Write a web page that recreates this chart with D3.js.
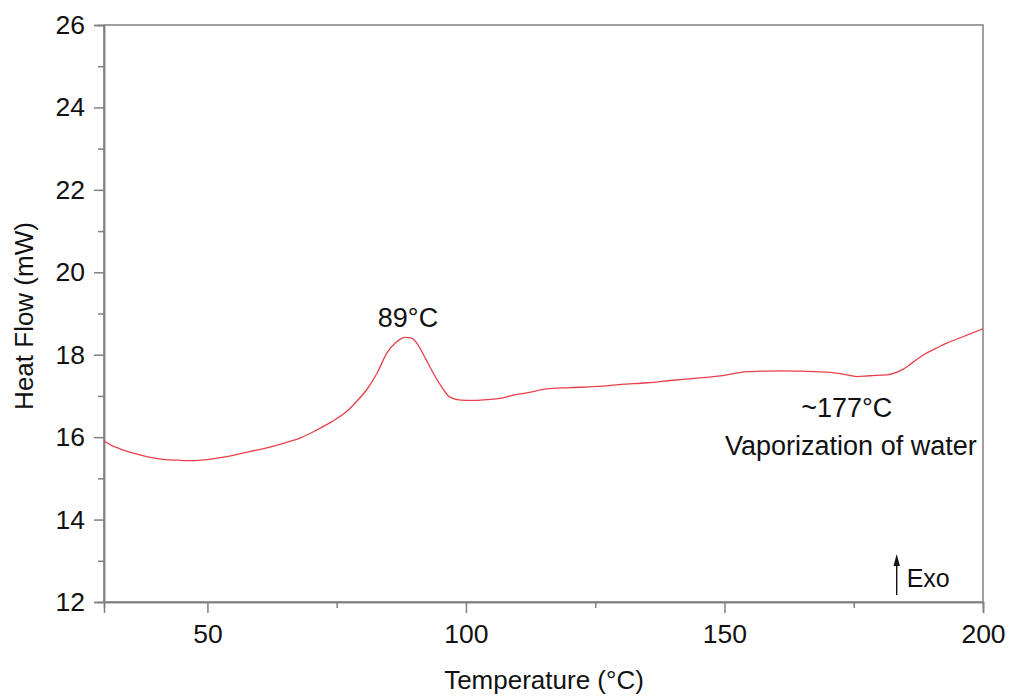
<!DOCTYPE html>
<html>
<head>
<meta charset="utf-8">
<script src="https://cdn.jsdelivr.net/npm/d3@7"></script>
<style>
  body { margin: 0; background: #fff; }
  text { font-family: "Liberation Sans", Arial, sans-serif; fill: #111; }
</style>
</head>
<body>
<div id="chart"></div>
<script>
// DSC curve
var temps = [30, 30.5, 33, 35.7, 38.5, 41.5, 44.5, 47.3, 49.5, 51.8, 55, 58.2, 61.5, 64.7, 68, 71.1, 74, 76.9, 78.8,
             80.8, 82.8, 84.7, 86.5, 88.2, 89.5, 90.5, 92, 93.7, 95.3, 96.9, 99, 101.4, 104, 106.6, 109.2, 112,
             115.6, 120, 125.3, 130, 135, 140, 144.6, 150, 154.3, 157, 160.8, 165, 170.4, 173, 175.6, 178, 181.4,
             183, 184.6, 186.5, 188.5, 191, 193, 196, 199.4, 200];
var heat = [15.92, 15.87, 15.72, 15.61, 15.52, 15.46, 15.44, 15.43, 15.45, 15.49, 15.56, 15.65, 15.74, 15.85, 15.98, 16.17, 16.37, 16.62, 16.86,
            17.15, 17.55, 18.04, 18.3, 18.42, 18.4, 18.28, 17.95, 17.55, 17.22, 16.97, 16.9, 16.89, 16.91, 16.94, 17.02, 17.08,
            17.17, 17.2, 17.23, 17.28, 17.32, 17.38, 17.43, 17.5, 17.59, 17.6, 17.61, 17.6, 17.57, 17.53, 17.47, 17.49, 17.51,
            17.56, 17.65, 17.82, 18.0, 18.16, 18.28, 18.43, 18.6, 18.63];
var xTicks = [50, 100, 150, 200];
var xMinor = [75, 125, 175];
var yTicks = [12, 14, 16, 18, 20, 22, 24, 26];
var yMinor = [13, 15, 17, 19, 21, 23, 25];

var margin = {top: 25, right: 27, bottom: 94, left: 104},
    width = 1010 - margin.left - margin.right,
    height = 696 - margin.top - margin.bottom;

var x = d3.scaleLinear().domain([30, 200]).range([0, width]);
var y = d3.scaleLinear().domain([12, 26]).range([height, 0]);

var svg = d3.select("#chart").append("svg")
    .attr("width", 1010)
    .attr("height", 696)
  .append("g")
    .attr("transform", "translate(" + margin.left + "," + margin.top + ")");

// frame
svg.append("rect")
    .attr("width", width).attr("height", height)
    .attr("fill", "none").attr("stroke", "#808080").attr("stroke-width", 1.5);

// x axis
var xAxis = svg.append("g").attr("transform", "translate(0," + height + ")");
xAxis.call(d3.axisBottom(x).tickValues(xTicks).tickSize(11).tickPadding(11));
xAxis.append("g").call(d3.axisBottom(x).tickValues(xMinor).tickSize(6).tickFormat(""));
xAxis.selectAll("path").attr("stroke", "#808080").attr("stroke-width", 1.5);
xAxis.selectAll("line").attr("stroke", "#808080").attr("stroke-width", 1.5);
xAxis.selectAll("text").style("font-size", "26.5px").attr("fill", "#111");

// y axis
var yAxis = svg.append("g");
yAxis.call(d3.axisLeft(y).tickValues(yTicks).tickSize(10).tickPadding(9));
yAxis.append("g").call(d3.axisLeft(y).tickValues(yMinor).tickSize(6).tickFormat(""));
yAxis.selectAll("path").attr("stroke", "#808080").attr("stroke-width", 1.5);
yAxis.selectAll("line").attr("stroke", "#808080").attr("stroke-width", 1.5);
yAxis.selectAll("text").style("font-size", "26.5px").attr("fill", "#111");

// axis titles
svg.append("text")
    .attr("x", 544 - margin.left).attr("y", 689 - margin.top)
    .attr("text-anchor", "middle").style("font-size", "26px")
    .text("Temperature (°C)");
svg.append("text")
    .attr("transform", "translate(" + (33 - margin.left) + "," + (316 - margin.top) + ") rotate(-90)")
    .attr("text-anchor", "middle").style("font-size", "26px")
    .text("Heat Flow (mW)");

// curve
var pts = temps.map(function(t, i) { return {t: t, h: heat[i]}; });
var line = d3.line()
    .x(function(d) { return x(d.t); })
    .y(function(d) { return y(d.h); })
    .curve(d3.curveMonotoneX);
svg.append("path")
    .attr("d", line(pts))
    .attr("fill", "none").attr("stroke", "#e8404a").attr("stroke-width", 1.3);

// annotations
svg.append("text")
    .attr("x", 408 - margin.left).attr("y", 326.7 - margin.top)
    .attr("text-anchor", "middle").style("font-size", "27px")
    .text("89°C");
svg.append("text")
    .attr("x", 846.7 - margin.left).attr("y", 416.7 - margin.top)
    .attr("text-anchor", "middle").style("font-size", "27px")
    .text("~177°C");
svg.append("text")
    .attr("x", 976.7 - margin.left).attr("y", 455 - margin.top)
    .attr("text-anchor", "end").style("font-size", "27px")
    .text("Vaporization of water");

// exo arrow
var ax = 896.7 - margin.left;
svg.append("line")
    .attr("x1", ax).attr("x2", ax)
    .attr("y1", 595 - margin.top).attr("y2", 562 - margin.top)
    .attr("stroke", "#111").attr("stroke-width", 1.4);
svg.append("path")
    .attr("d", "M" + (ax - 3.2) + "," + (566 - margin.top) + " L" + ax + "," + (554 - margin.top) + " L" + (ax + 3.2) + "," + (566 - margin.top) + " Z")
    .attr("fill", "#111");
svg.append("text")
    .attr("x", 906.7 - margin.left).attr("y", 586.7 - margin.top)
    .style("font-size", "25px")
    .text("Exo");
</script>
</body>
</html>
